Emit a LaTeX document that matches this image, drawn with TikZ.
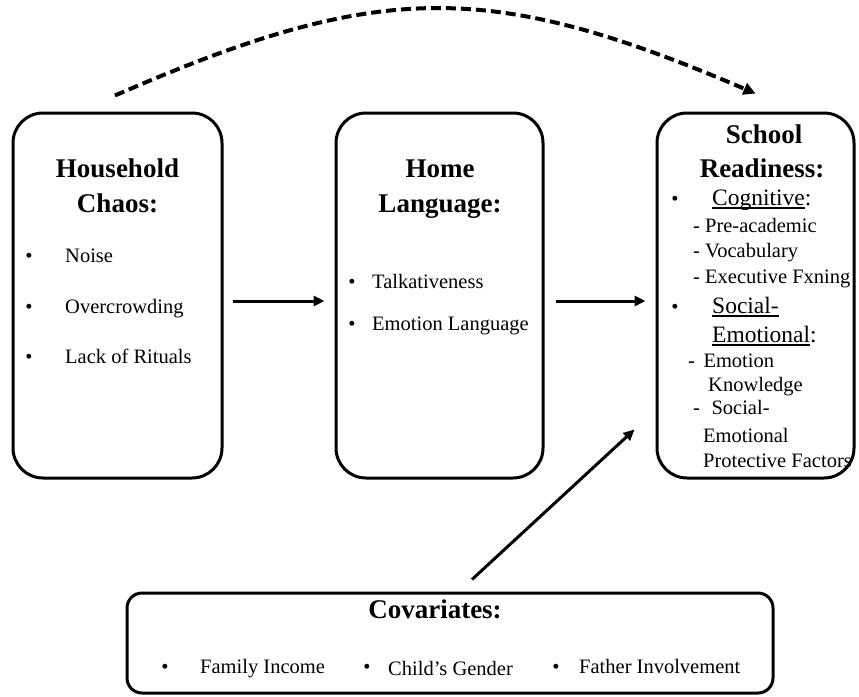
\documentclass[tikz,border=0pt]{standalone}
\usepackage{fontspec}
\setmainfont{Liberation Serif}
\usetikzlibrary{arrows.meta}
\newcommand\ulx[1]{\setbox0\hbox{#1}\rlap{\rule[-3.5pt]{\wd0}{1.3pt}}\box0}
\begin{document}
\begin{tikzpicture}[x=1pt,y=-1pt,
 box/.style={draw, line width=3pt, rounded corners=30pt, inner sep=0pt},
 ttl/.style={font=\fontsize{27}{32}\selectfont\bfseries, anchor=base, inner sep=0pt},
 txt/.style={font=\fontsize{20.5}{25}\selectfont, anchor=base west, inner sep=0pt},
 big/.style={font=\fontsize{23.5}{28}\selectfont, anchor=base west, inner sep=0pt},
 bul/.style={font=\fontsize{20.5}{25}\selectfont, anchor=base, inner sep=0pt},
 arr/.style={line width=3pt, -{Triangle[length=11pt,width=10pt]}},
 darr/.style={line width=4pt, dash pattern=on 10pt off 5pt, -{Triangle[length=12pt,width=12pt]}}
]
\useasboundingbox (0,0) rectangle (859,696);

% boxes
\node[box, minimum width=209pt, minimum height=365pt] (hc) at (117.5,295.5) {};
\node[box, minimum width=207pt, minimum height=365pt] (hl) at (439.5,295.5) {};
\node[box, minimum width=197pt, minimum height=365pt] (sr) at (755.5,295.5) {};
\node[box, rounded corners=15pt, minimum width=646pt, minimum height=100pt] (cov) at (450,643) {};

% Household Chaos
\node[ttl] (hct1) at (117.5,177) {Household};
\node[ttl] (hct2) at (117.5,212) {Chaos:};
\node[bul] (hcb1) at (29,262) {•};
\node[txt] (hci1) at (65,262) {Noise};
\node[bul] (hcb2) at (29,313) {•};
\node[txt] (hci2) at (65,313) {Overcrowding};
\node[bul] (hcb3) at (29,363) {•};
\node[txt] (hci3) at (65,363) {Lack of Rituals};

% Home Language
\node[ttl] (hlt1) at (440,177) {Home};
\node[ttl] (hlt2) at (440,212) {Language:};
\node[bul] (hlb1) at (352,288) {•};
\node[txt] (hli1) at (372,288) {Talkativeness};
\node[bul] (hlb2) at (352,330) {•};
\node[txt] (hli2) at (372,330) {Emotion Language};

% School Readiness
\node[ttl] (srt1) at (764,143) {School};
\node[ttl] (srt2) at (762,177) {Readiness:};
\node[bul] (srb1) at (675,205) {•};
\node[big] (sri1) at (712,205) {\ulx{Cognitive}:};
\node[txt] (sri2) at (693,232) {- Pre-academic};
\node[txt] (sri3) at (693,257) {- Vocabulary};
\node[txt] (sri4) at (693,283) {- Executive Fxning};
\node[bul] (srb2) at (675,313) {•};
\node[big] (sri5) at (712,313) {\ulx{Social-}};
\node[big] (sri6) at (712,342) {\ulx{Emotional}:};
\node[txt] (sri7) at (688,367) {-\kern8.5pt Emotion};
\node[txt] (sri8) at (708,391) {Knowledge};
\node[txt] (sri9) at (693,414) {-\kern11.5pt Social-};
\node[txt] (sri10) at (703,442) {Emotional};
\node[txt] (sri11) at (703,467) {Protective Factors};

% Covariates
\node[ttl] (covt) at (435,618) {Covariates:};
\node[bul] (cb1) at (165,673) {•};
\node[txt] (ci1) at (200,673) {Family Income};
\node[bul] (cb2) at (367,673) {•};
\node[txt] (ci2) at (388,675) {Child’s Gender};
\node[bul] (cb3) at (556,673) {•};
\node[txt] (ci3) at (579,673) {Father Involvement};

% connectors
\draw[arr, shorten <=9pt, shorten >=10pt] ([yshift=-5.5pt]hc.east) -- ([yshift=-5.5pt]hl.west);
\draw[arr, shorten <=11pt, shorten >=10pt] ([yshift=-5.5pt]hl.east) -- ([yshift=-5.5pt]sr.west);
\coordinate (dstart) at ([xshift=-2.5pt,yshift=16pt]hc.north);
\coordinate (dend) at ([yshift=18pt]sr.north);
\draw[darr] (dstart) .. controls (380,-20) and (490,-20) .. (dend);
\coordinate (cstart) at ([xshift=22pt,yshift=12pt]cov.north);
\coordinate (ctip) at ([xshift=-21pt,yshift=50pt]sr.south west);
\draw[arr] (cstart) -- (ctip);
\end{tikzpicture}
\end{document}
